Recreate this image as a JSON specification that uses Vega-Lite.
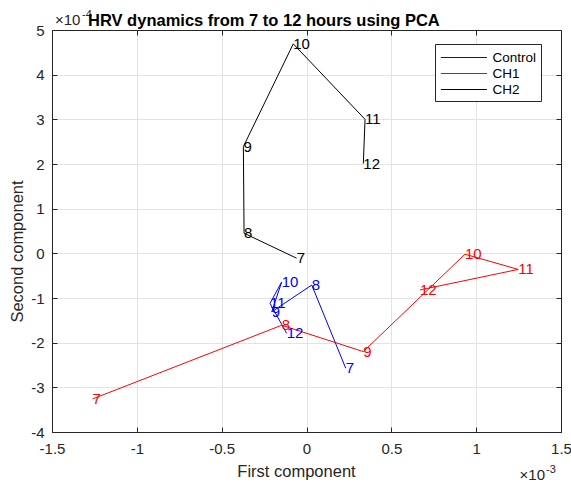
{
  "$schema": "https://vega.github.io/schema/vega-lite/v6.json",
  "width": 509,
  "height": 402,
  "autosize": {"type": "none"},
  "padding": {"left": 52, "top": 30, "right": 10, "bottom": 51},
  "background": "white",
  "config": {
    "font": "Liberation Sans",
    "view": {"stroke": null},
    "axis": {
      "domainColor": "#262626",
      "tickColor": "#262626",
      "labelColor": "#262626",
      "titleColor": "#262626",
      "tickSize": -5,
      "labelFontSize": 15,
      "titleFontSize": 16.5,
      "titleFontWeight": "normal",
      "gridColor": "#e3e3e3",
      "labelFont": "Liberation Sans",
      "titleFont": "Liberation Sans",
      "labelFlush": false,
      "labelOverlap": false
    }
  },
  "title": {
    "text": "HRV dynamics from 7 to 12 hours using PCA",
    "anchor": "start",
    "frame": "group",
    "dx": 36,
    "fontSize": 16.5,
    "fontWeight": "bold",
    "color": "#000000",
    "baseline": "alphabetic",
    "offset": -33
  },
  "data": {
    "values": [
      {"series": "Control", "hour": 7, "pc1": 0.000231, "pc2": -0.000257},
      {"series": "Control", "hour": 8, "pc1": 0.000031, "pc2": -0.000071},
      {"series": "Control", "hour": 9, "pc1": -0.000205, "pc2": -0.000131},
      {"series": "Control", "hour": 10, "pc1": -0.000146, "pc2": -0.000064},
      {"series": "Control", "hour": 11, "pc1": -0.000215, "pc2": -0.000112},
      {"series": "Control", "hour": 12, "pc1": -0.000117, "pc2": -0.000179},
      {"series": "CH1", "hour": 7, "pc1": -0.001261, "pc2": -0.000326},
      {"series": "CH1", "hour": 8, "pc1": -0.000146, "pc2": -0.000161},
      {"series": "CH1", "hour": 9, "pc1": 0.000335, "pc2": -0.000220},
      {"series": "CH1", "hour": 10, "pc1": 0.000934, "pc2": -0.000002},
      {"series": "CH1", "hour": 11, "pc1": 0.001248, "pc2": -0.000036},
      {"series": "CH1", "hour": 12, "pc1": 0.000669, "pc2": -0.000082},
      {"series": "CH2", "hour": 7, "pc1": -0.000058, "pc2": -0.000011},
      {"series": "CH2", "hour": 8, "pc1": -0.000368, "pc2": 0.000045},
      {"series": "CH2", "hour": 9, "pc1": -0.000372, "pc2": 0.000239},
      {"series": "CH2", "hour": 10, "pc1": -0.000078, "pc2": 0.000469},
      {"series": "CH2", "hour": 11, "pc1": 0.000345, "pc2": 0.000300},
      {"series": "CH2", "hour": 12, "pc1": 0.000335, "pc2": 0.000201}
    ]
  },
  "layer": [
    {
      "mark": {"type": "line", "strokeWidth": 1},
      "encoding": {
        "x": {
          "field": "pc1", "type": "quantitative",
          "scale": {"domain": [-0.0015, 0.0015], "nice": false, "zero": false},
          "axis": {
            "orient": "bottom",
            "values": [-0.0015, -0.001, -0.0005, 0, 0.0005, 0.001, 0.0015],
            "labelExpr": "'' + round(datum.value*10000)/10",
            "grid": true,
            "labelBaseline": "alphabetic",
            "labelPadding": 26,
            "title": "First component",
            "titleX": 244,
            "titleY": 44,
            "titleBaseline": "alphabetic",
            "titleAlign": "center"
          }
        },
        "y": {
          "field": "pc2", "type": "quantitative",
          "scale": {"domain": [-0.0004, 0.0005], "nice": false, "zero": false},
          "axis": {
            "orient": "left",
            "values": [-0.0004, -0.0003, -0.0002, -0.0001, 0, 0.0001, 0.0002, 0.0003, 0.0004, 0.0005],
            "labelExpr": "'' + round(datum.value*10000)",
            "grid": true,
            "labelPadding": 13,
            "title": "Second component",
            "titleX": -30,
            "titleY": 221,
            "titleAngle": -90,
            "titleBaseline": "alphabetic",
            "titleAlign": "center"
          }
        },
        "color": {
          "field": "series", "type": "nominal",
          "scale": {"domain": ["Control", "CH1", "CH2"], "range": ["#0000ff", "#ff0000", "#000000"]},
          "legend": {
            "title": null,
            "orient": "none",
            "legendX": 383,
            "legendY": 14,
            "strokeColor": "#262626",
            "fillColor": "white",
            "padding": 5,
            "symbolType": "M-3,0H3",
            "symbolSize": 236,
            "symbolStrokeWidth": 1,
            "symbolOffset": 15.4,
            "labelOffset": 20,
            "labelFontSize": 13.5,
            "labelColor": "#000000",
            "rowPadding": 1,
            "encode": {
              "symbols": {"update": {"stroke": {"scale": "color", "field": "value"}}}
            }
          }
        },
        "order": {"field": "hour", "type": "quantitative"}
      }
    },
    {
      "mark": {"type": "text", "align": "left", "baseline": "middle", "fontSize": 15},
      "encoding": {
        "x": {"field": "pc1", "type": "quantitative", "axis": null},
        "y": {"field": "pc2", "type": "quantitative", "axis": null},
        "text": {"field": "hour", "type": "nominal"},
        "color": {"field": "series", "type": "nominal", "legend": null}
      }
    },
    {
      "mark": {"type": "point", "opacity": 0},
      "encoding": {
        "x": {
          "field": "pc1", "type": "quantitative",
          "axis": {"orient": "top", "values": [-0.0015, -0.001, -0.0005, 0, 0.0005, 0.001, 0.0015], "labels": false, "grid": false, "title": null}
        },
        "y": {
          "field": "pc2", "type": "quantitative",
          "axis": {"orient": "right", "values": [-0.0004, -0.0003, -0.0002, -0.0001, 0, 0.0001, 0.0002, 0.0003, 0.0004, 0.0005], "labels": false, "grid": false, "title": null}
        }
      }
    },
    {
      "data": {"values": [{"base": "×10", "exp": "-4"}]},
      "layer": [
        {
          "mark": {"type": "text", "align": "left", "baseline": "alphabetic", "fontSize": 15, "color": "#262626", "dx": 3, "dy": -5},
          "encoding": {
            "x": {"datum": -0.0015, "type": "quantitative", "axis": null},
            "y": {"datum": 0.0005, "type": "quantitative", "axis": null},
            "text": {"field": "base"}
          }
        },
        {
          "mark": {"type": "text", "align": "left", "baseline": "alphabetic", "fontSize": 11, "color": "#262626", "dx": 30, "dy": -12},
          "encoding": {
            "x": {"datum": -0.0015, "type": "quantitative", "axis": null},
            "y": {"datum": 0.0005, "type": "quantitative", "axis": null},
            "text": {"field": "exp"}
          }
        }
      ]
    },
    {
      "data": {"values": [{"base": "×10", "exp": "-3"}]},
      "layer": [
        {
          "mark": {"type": "text", "align": "right", "baseline": "alphabetic", "fontSize": 15, "color": "#262626", "dx": -16, "dy": 48},
          "encoding": {
            "x": {"datum": 0.0015, "type": "quantitative", "axis": null},
            "y": {"datum": -0.0004, "type": "quantitative", "axis": null},
            "text": {"field": "base"}
          }
        },
        {
          "mark": {"type": "text", "align": "left", "baseline": "alphabetic", "fontSize": 11, "color": "#262626", "dx": -15, "dy": 41},
          "encoding": {
            "x": {"datum": 0.0015, "type": "quantitative", "axis": null},
            "y": {"datum": -0.0004, "type": "quantitative", "axis": null},
            "text": {"field": "exp"}
          }
        }
      ]
    }
  ],
  "resolve": {"axis": {"x": "independent", "y": "independent"}}
}
